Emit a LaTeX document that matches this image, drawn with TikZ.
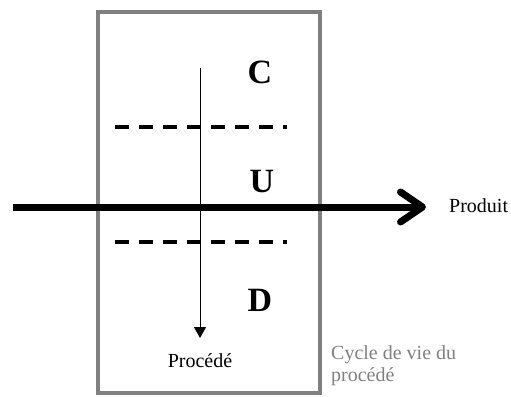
\documentclass[tikz,border=0pt]{standalone}
\usepackage{fontspec}
\setmainfont{Liberation Serif}
\usetikzlibrary{arrows.meta}
\definecolor{gris}{RGB}{128,128,128}
\tikzset{
  lettre/.style={font=\fontsize{34}{34}\selectfont\bfseries, inner sep=0pt},
  etiquette/.style={font=\fontsize{20}{22}\selectfont, inner sep=0pt},
  tirets/.style={line width=4.5pt, dash pattern=on 14pt off 10pt},
}
\begin{document}
\begin{tikzpicture}[x=1pt,y=-1pt]
			\useasboundingbox (0,0) rectangle (511,396);
			% Cadre du cycle de vie:
			\node[draw=gris, line width=4pt, minimum width=222pt, minimum height=381pt](cadre) at (209,202.5){};
			\node[etiquette, text=gris, anchor=north west, align=left](cycle) at (331,345){Cycle de vie du\\procédé};
			% Zones C, U, D:
			\node[lettre](C) at (260,72){C};
			\node[lettre](U) at (262,182){U};
			\node[lettre](D) at (260,300){D};
			\coordinate (t1a) at (115,127);
			\coordinate (t1b) at (287,127);
			\coordinate (t2a) at (115,242);
			\coordinate (t2b) at (287,242);
			\draw[tirets] (t1a) -- (t1b);
			\draw[tirets] (t2a) -- (t2b);
			% Fleche procede:
			\coordinate (haut) at (200,68);
			\coordinate (bas) at (200,338);
			\draw[line width=1pt, -{Triangle[length=11pt,width=12pt]}] (haut) -- (bas);
			\node[etiquette, anchor=base](procede) at (200,367){Procédé};
			% Fleche produit:
			\coordinate (gauche) at (13,207);
			\coordinate (droite) at (426,207);
			\draw[line width=7pt, -{Straight Barb[length=22pt,width=30pt,round]}] (gauche) -- (droite);
			\node[etiquette, anchor=base west](produit) at (449,212){Produit};
		\end{tikzpicture}
\end{document}
